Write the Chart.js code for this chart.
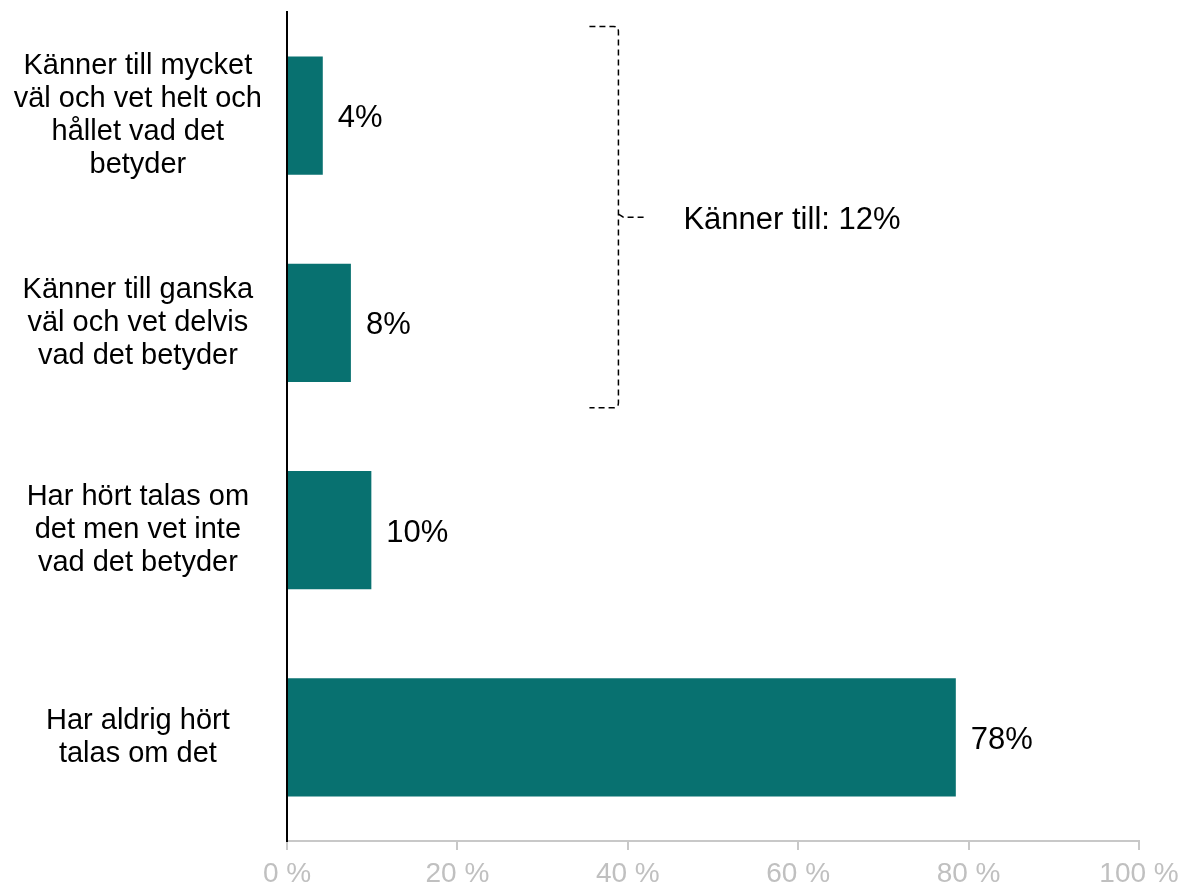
<!DOCTYPE html>
<html lang="sv">
<head>
<meta charset="utf-8">
<title>Känner till</title>
<script src="https://cdn.jsdelivr.net/npm/chart.js@4.4.0/dist/chart.umd.min.js"></script>
<style>
    html, body { margin: 0; padding: 0; background: #fff; }
    #wrap { width: 1180px; height: 886px; position: relative; }
</style>
</head>
<body>
<div id="wrap"><canvas id="chart"></canvas></div>
<script>
// Data
const categories = [
    ['Känner till mycket', 'väl och vet helt och', 'hållet vad det', 'betyder'],
    ['Känner till ganska', 'väl och vet delvis', 'vad det betyder'],
    ['Har hört talas om', 'det men vet inte', 'vad det betyder'],
    ['Har aldrig hört', 'talas om det']
];
const values = [4.2, 7.5, 9.9, 78.5];
const valueLabels = ['4%', '8%', '10%', '78%'];
const xTicks = [0, 20, 40, 60, 80, 100];

// Klammer runt de två första staplarna
const bracketText = 'Känner till: 12%';
const bracketAt = 38.9;              // procent på x-axeln
const bracketSpan = [-0.43, 1.41];   // kategoriindex (topp, botten)

const FONT = '"Liberation Sans", Arial, sans-serif';

// Värdeetiketter till höger om staplarna
const valueLabelPlugin = {
    id: 'valueLabels',
    afterDatasetsDraw(chart) {
        const ctx = chart.ctx;
        const meta = chart.getDatasetMeta(0);
        ctx.save();
        ctx.font = '31px ' + FONT;
        ctx.fillStyle = '#000';
        ctx.textAlign = 'left';
        ctx.textBaseline = 'middle';
        meta.data.forEach((bar, i) => {
            ctx.fillText(valueLabels[i], bar.x + 15, bar.y + 3);
        });
        ctx.restore();
    }
};

// Streckad klammer med text
const bracketPlugin = {
    id: 'bracket',
    afterDraw(chart) {
        const ctx = chart.ctx;
        const xs = chart.scales.x;
        const ys = chart.scales.y;
        const p0 = ys.getPixelForValue(0);
        const p1 = ys.getPixelForValue(1);
        const pix = v => p0 + v * (p1 - p0);

        const bx = xs.getPixelForValue(bracketAt);
        const top = pix(bracketSpan[0]);
        const bottom = pix(bracketSpan[1]);
        const mid = (top + bottom) / 2;

        ctx.save();
        ctx.strokeStyle = '#000';
        ctx.lineWidth = 1.5;
        ctx.setLineDash([6, 4]);
        ctx.beginPath();
        ctx.moveTo(bx - 29, top);
        ctx.lineTo(bx - 5, top);
        ctx.quadraticCurveTo(bx, top, bx, top + 5);
        ctx.lineTo(bx, bottom - 5);
        ctx.quadraticCurveTo(bx, bottom, bx - 5, bottom);
        ctx.lineTo(bx - 29, bottom);
        ctx.stroke();

        ctx.beginPath();
        ctx.moveTo(bx, mid - 3);
        ctx.lineTo(bx + 5, mid);
        ctx.lineTo(bx + 28, mid);
        ctx.stroke();
        ctx.setLineDash([]);

        ctx.font = '31px ' + FONT;
        ctx.fillStyle = '#000';
        ctx.textAlign = 'left';
        ctx.textBaseline = 'middle';
        ctx.fillText(bracketText, bx + 65, mid + 3);
        ctx.restore();
    }
};

new Chart(document.getElementById('chart'), {
    type: 'bar',
    data: {
        labels: categories,
        datasets: [{
            data: values,
            backgroundColor: '#087170',
            borderWidth: 0,
            barPercentage: 0.57,
            categoryPercentage: 1.0
        }]
    },
    options: {
        indexAxis: 'y',
        responsive: true,
        maintainAspectRatio: false,
        animation: false,
        layout: {
            padding: { top: 12, right: 41, bottom: 0, left: 0 }
        },
        scales: {
            x: {
                min: 0,
                max: 100,
                afterBuildTicks: scale => {
                    scale.ticks = xTicks.map(v => ({ value: v }));
                },
                ticks: {
                    callback: v => v + ' %',
                    color: '#c0c0c0',
                    font: { size: 28, family: FONT },
                    padding: 7,
                    maxRotation: 0,
                    autoSkip: false
                },
                grid: {
                    drawOnChartArea: false,
                    drawTicks: true,
                    tickLength: 9,
                    color: '#c8c8c8',
                    lineWidth: 2
                },
                border: { color: '#c8c8c8', width: 2 },
                afterFit: scale => {
                    scale.height = 45;
                    scale.paddingLeft = 0;
                    scale.paddingRight = 0;
                }
            },
            y: {
                grid: { display: false, drawTicks: false },
                border: { color: '#000', width: 2 },
                ticks: {
                    color: '#000',
                    font: { size: 29, family: FONT, lineHeight: 1.14 },
                    padding: 25,
                    crossAlign: 'center',
                    autoSkip: false
                },
                afterFit: scale => {
                    scale.width = 287;
                    scale.paddingTop = 0;
                    scale.paddingBottom = 0;
                }
            }
        },
        plugins: {
            legend: { display: false },
            tooltip: { enabled: false }
        }
    },
    plugins: [valueLabelPlugin, bracketPlugin]
});
</script>
</body>
</html>
